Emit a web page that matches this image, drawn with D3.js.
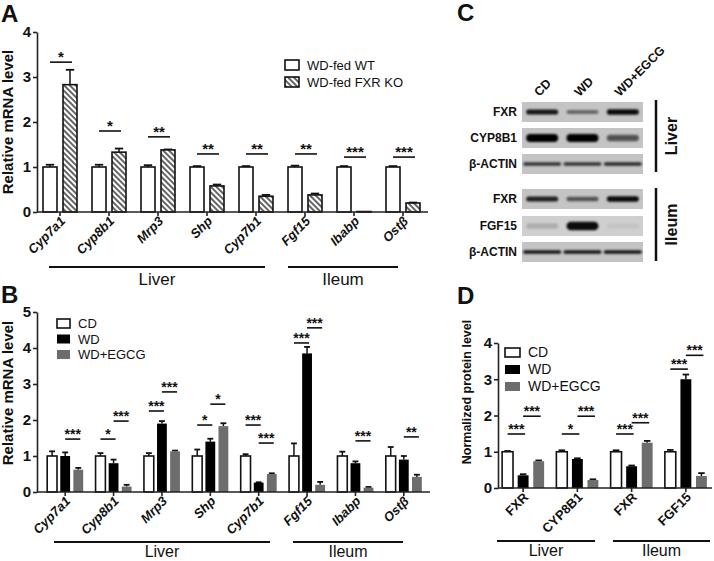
<!DOCTYPE html>
<html><head><meta charset="utf-8">
<script src="https://cdn.jsdelivr.net/npm/d3@7"></script>
<style>
body{margin:0;background:#fff}
svg{display:block}
text{font-family:"Liberation Sans",Arial,sans-serif;fill:#111}
</style>
</head><body>
<svg id="fig" width="714" height="561"></svg>
<script>
// ---------- DATA ----------
// Panel A
const catsA = ["Cyp7a1","Cyp8b1","Mrp3","Shp","Cyp7b1","Fgf15","Ibabp","Ostβ"];
const seriesA = ["WD-fed WT","WD-fed FXR KO"];
const wtA     = [1.00,1.00,1.00,1.00,1.00,1.00,1.00,1.00];
const wtErrA  = [0.05,0.05,0.04,0.02,0.02,0.03,0.02,0.02];
const koA     = [2.83,1.33,1.38,0.58,0.35,0.38,0.01,0.20];
const koErrA  = [0.33,0.08,0.01,0.03,0.03,0.03,0.00,0.01];
const sigA    = [[0,0,1,3.33,"*"],[1,0,1,1.80,"*"],[2,0,1,1.67,"**"],[3,0,1,1.29,"**"],
                 [4,0,1,1.29,"**"],[5,0,1,1.29,"**"],[6,0,1,1.22,"***"],[7,0,1,1.22,"***"]];
const ticksA  = [0,1,2,3,4];

// Panel B
const catsB = ["Cyp7a1","Cyp8b1","Mrp3","Shp","Cyp7b1","Fgf15","Ibabp","Ostβ"];
const seriesB = ["CD","WD","WD+EGCG"];
const cdB      = [1.00,1.00,1.00,1.00,1.00,1.00,1.00,1.00];
const cdErrB   = [0.13,0.08,0.08,0.18,0.05,0.35,0.12,0.25];
const wdB      = [1.00,0.80,1.90,1.40,0.26,3.85,0.80,0.90];
const wdErrB   = [0.10,0.10,0.07,0.08,0.01,0.18,0.05,0.10];
const egcgB    = [0.62,0.15,1.13,1.83,0.50,0.20,0.12,0.42];
const egcgErrB = [0.05,0.05,0.02,0.08,0.02,0.08,0.02,0.06];
const sigB = [[0,1,2,1.47,"***"],[1,0,1,1.47,"*"],[1,1,2,1.97,"***"],
              [2,0,1,2.25,"***"],[2,1,2,2.78,"***"],[3,0,1,1.86,"*"],[3,1,2,2.44,"*"],
              [4,0,1,1.86,"***"],[4,1,2,1.36,"***"],[5,0,1,4.14,"***"],[5,1,2,4.56,"***"],
              [6,1,2,1.42,"***"],[7,1,2,1.53,"**"]];
const ticksB = [0,1,2,3,4,5];

// Panel C (western blot band intensities, lanes CD / WD / WD+EGCG)
const blotLanes = ["CD","WD","WD+EGCG"];
const blotRowsLiver = ["FXR","CYP8B1","β-ACTIN"];
const blotRowsIleum = ["FXR","FGF15","β-ACTIN"];
const bandLiver = [[0.85,0.45,0.90],[1.00,0.95,0.55],[0.70,0.70,0.75]];
const bandIleum = [[0.80,0.55,0.90],[0.15,0.90,0.05],[0.85,0.85,0.85]];

// Panel D
const catsD = ["FXR","CYP8B1","FXR ","FGF15"];
const seriesD = ["CD","WD","WD+EGCG"];
const cdD      = [1.00,1.00,1.00,1.00];
const cdErrD   = [0.02,0.04,0.04,0.05];
const wdD      = [0.35,0.80,0.60,3.00];
const wdErrD   = [0.03,0.02,0.02,0.13];
const egcgD    = [0.74,0.22,1.25,0.33];
const egcgErrD = [0.02,0.02,0.05,0.08];
const sigD = [[0,0,1,1.49,"***"],[0,1,2,1.98,"***"],[1,0,1,1.49,"*"],[1,1,2,1.98,"***"],
              [2,0,1,1.49,"***"],[2,1,2,1.80,"***"],[3,0,1,3.28,"***"],[3,1,2,3.66,"***"]];
const ticksD = [0,1,2,3,4];

// ---------- DRAW ----------
const svg = d3.select("#fig");
const defs = svg.append("defs");
const pat = defs.append("pattern").attr("id","hatch").attr("patternUnits","userSpaceOnUse")
  .attr("width",4).attr("height",4).attr("patternTransform","rotate(-45)");
pat.append("rect").attr("width",4).attr("height",4).attr("fill","#fff");
pat.append("line").attr("x1",1).attr("y1",0).attr("x2",1).attr("y2",4).attr("stroke","#111").attr("stroke-width",1.3);
const blur = defs.append("filter").attr("id","blur").attr("x","-30%").attr("y","-100%").attr("width","160%").attr("height","300%");
blur.append("feGaussianBlur").attr("stdDeviation",1.3);

const GRAY = "#6d6d6d";

function barPanel(cfg){
  const g = svg.append("g");
  const x = d3.scaleBand().domain(cfg.cats).range(cfg.band);
  const xs = d3.scaleBand().domain(d3.range(cfg.series.length)).range(cfg.sub).paddingInner(cfg.subPad);
  const y = d3.scaleLinear().domain(cfg.yDomain).range(cfg.yRange);
  const y0 = y(0);
  const cx = c => x(c) + x.bandwidth()/2;
  const bw = xs.bandwidth();
  const capW = bw*0.6;

  cfg.series.forEach((s, si) => {
    const vals = cfg.values[si], errs = cfg.errors[si];
    const gs = g.append("g");
    cfg.cats.forEach((c, ci) => {
      const bx = cx(c) + xs(si);
      const v = vals[ci], e = errs[ci];
      const mid = bx + bw/2;
      if (e > 0) {
        gs.append("line").attr("x1",mid).attr("x2",mid).attr("y1",y(v)).attr("y2",y(v+e))
          .attr("stroke","#111").attr("stroke-width",1.5);
        gs.append("line").attr("x1",mid-capW/2).attr("x2",mid+capW/2).attr("y1",y(v+e)).attr("y2",y(v+e))
          .attr("stroke","#111").attr("stroke-width",1.8);
      }
      gs.append("rect").attr("x",bx).attr("width",bw).attr("y",y(v)).attr("height",Math.max(0.5,y0-y(v)))
        .attr("fill",cfg.fills[si]).attr("stroke",cfg.strokes[si]).attr("stroke-width",cfg.strokes[si]==="none"?0:1.6);
    });
  });

  const ya = g.append("g").attr("transform",`translate(${cfg.axisX[0]},0)`)
    .call(d3.axisLeft(y).tickValues(cfg.ticks).tickSize(4).tickSizeOuter(0).tickPadding(2).tickFormat(d3.format("d")));
  ya.selectAll("path,line").attr("stroke","#222").attr("stroke-width",1.6);
  ya.selectAll("text").attr("font-size",15).attr("font-weight","bold").attr("fill","#111");
  const xa = g.append("g").attr("transform",`translate(0,${y0})`)
    .call(d3.axisBottom(x).tickSize(4).tickSizeOuter(0).tickFormat(""));
  xa.select(".domain").remove();
  xa.selectAll("line").attr("stroke","#222").attr("stroke-width",1.6);
  g.append("line").attr("x1",cfg.axisX[0]).attr("x2",cfg.axisX[1]).attr("y1",y0).attr("y2",y0)
    .attr("stroke","#222").attr("stroke-width",1.6);

  cfg.cats.forEach(c => {
    g.append("text").attr("transform",`translate(${cx(c)+cfg.labDx},${y0+cfg.labDy}) rotate(-45)`)
      .attr("text-anchor","end").attr("font-size",cfg.catSize).attr("font-weight","bold")
      .attr("font-style",cfg.italic?"italic":"normal").text(c.trim());
  });

  cfg.sigs.forEach(([ci,s1,s2,lvl,stars]) => {
    const c = cfg.cats[ci];
    const x1 = cx(c)+xs(s1)+bw/2, x2 = cx(c)+xs(s2)+bw/2+2;
    g.append("line").attr("x1",x1).attr("x2",x2).attr("y1",y(lvl)).attr("y2",y(lvl))
      .attr("stroke","#111").attr("stroke-width",1.6);
    g.append("text").attr("x",(x1+x2)/2).attr("y",y(lvl)+cfg.starDy).attr("text-anchor","middle")
      .attr("font-size",cfg.starSize).attr("font-weight","bold").text(stars);
  });

  g.append("text").attr("transform",`translate(${cfg.ylab[0]},${cfg.ylab[1]}) rotate(-90)`)
    .attr("text-anchor","middle").attr("font-size",cfg.ylabSize).attr("font-weight","bold").text(cfg.ylabel);

  cfg.groups.forEach(([name,x1,x2,ly,ty]) => {
    g.append("line").attr("x1",x1).attr("x2",x2).attr("y1",ly).attr("y2",ly).attr("stroke","#111").attr("stroke-width",2);
    g.append("text").attr("x",(x1+x2)/2).attr("y",ty).attr("text-anchor","middle").attr("font-size",cfg.groupSize).text(name);
  });

  const L = cfg.legend;
  cfg.series.forEach((s, si) => {
    const yy = L.y + si*L.dy;
    g.append("rect").attr("x",L.x).attr("y",yy).attr("width",L.w).attr("height",L.h)
      .attr("fill",cfg.fills[si]).attr("stroke",cfg.strokes[si]==="none"?"none":"#111").attr("stroke-width",1.6);
    g.append("text").attr("x",L.tx).attr("y",yy+L.h).attr("font-size",L.size).text(s);
  });
}

barPanel({
  cats: catsA, series: seriesA, values: [wtA, koA], errors: [wtErrA, koErrA],
  fills: ["#fff","url(#hatch)"], strokes: ["#111","#111"],
  yDomain: [0,4], yRange: [212,32], ticks: ticksA,
  band: [35.5,427.5], sub: [-17,17], subPad: 0.3, axisX: [37,428],
  labDx: 6, labDy: 10, italic: true, catSize: 13, sigs: sigA, starDy: 0, starSize: 15,
  ylabel: "Relative mRNA level", ylab: [13,122], ylabSize: 15,
  groups: [["Liver",49,265,267,285],["Ileum",288,398,267,285]], groupSize: 17,
  legend: {x:285, y:60, dy:17, w:14, h:10, tx:307, size:13}
});

barPanel({
  cats: catsB, series: seriesB, values: [cdB, wdB, egcgB], errors: [cdErrB, wdErrB, egcgErrB],
  fills: ["#fff","#000",GRAY], strokes: ["#111","none","none"],
  yDomain: [0,5], yRange: [492,312], ticks: ticksB,
  band: [41,428], sub: [-18,18], subPad: 0.25, axisX: [37,430],
  labDx: 6, labDy: 10, italic: true, catSize: 13, sigs: sigB, starDy: 0, starSize: 14,
  ylabel: "Relative mRNA level", ylab: [13,393], ylabSize: 15,
  groups: [["Liver",54,270,542,557],["Ileum",293,403,542,557]], groupSize: 16,
  legend: {x:57, y:319, dy:15.5, w:13, h:9, tx:78, size:13}
});

barPanel({
  cats: catsD, series: seriesD, values: [cdD, wdD, egcgD], errors: [cdErrD, wdErrD, egcgErrD],
  fills: ["#fff","#000",GRAY], strokes: ["#111","none","none"],
  yDomain: [0,4], yRange: [488,343], ticks: ticksD,
  band: [496,713], sub: [-21,21], subPad: 0.3, axisX: [498,712],
  labDx: 6, labDy: 10, italic: false, catSize: 13, sigs: sigD, starDy: 0, starSize: 14,
  ylabel: "Normalized protein level", ylab: [471,392], ylabSize: 12.5,
  groups: [["Liver",497,595,541,556],["Ileum",613,710,541,556]], groupSize: 16,
  legend: {x:505, y:348, dy:17, w:15, h:9, tx:528, size:14}
});

(function(){
  const g = svg.append("g");
  const lane = d3.scaleBand().domain(blotLanes).range([522,643]);
  const lc = l => lane(l) + lane.bandwidth()/2;
  const thick = {"FXR":5.5, "CYP8B1":8, "β-ACTIN":4, "FGF15":9};
  function block(rows, bands, y0s){
    rows.forEach((r, ri) => {
      const top = y0s[ri], h = 20;
      g.append("rect").attr("x",522).attr("y",top).attr("width",121).attr("height",h)
        .attr("fill", r==="FGF15" ? "#cfcfcf" : "#c4c4c4");
      blotLanes.forEach((l, li) => {
        const a = bands[ri][li];
        const t = thick[r] * (0.55 + 0.45*a);
        const w = (r==="β-ACTIN" ? 38 : 32);
        g.append("rect").attr("x",lc(l)-w/2).attr("y",top+h/2-t/2).attr("width",w).attr("height",t)
          .attr("rx",t/2).attr("fill","#000").attr("opacity",Math.min(1,a*1.05)).attr("filter","url(#blur)");
      });
      g.append("text").attr("x",517).attr("y",top+h/2+4).attr("text-anchor","end")
        .attr("font-size",12).attr("font-weight","bold").text(r);
    });
  }
  block(blotRowsLiver, bandLiver, [102,128,154]);
  block(blotRowsIleum, bandIleum, [189,216,242]);
  blotLanes.forEach(l => {
    g.append("text").attr("transform",`translate(${lc(l)-3},97) rotate(-45)`)
      .attr("font-size",12.5).attr("font-weight","bold").text(l);
  });
  [["Liver",100,172],["Ileum",188,261]].forEach(([n,a,b]) => {
    g.append("line").attr("x1",656).attr("x2",656).attr("y1",a).attr("y2",b).attr("stroke","#111").attr("stroke-width",2.5);
    g.append("text").attr("transform",`translate(677,${(a+b)/2}) rotate(-90)`).attr("text-anchor","middle")
      .attr("font-size",16).attr("font-weight","600").text(n);
  });
})();

[["A",1,22],["B",1,303],["C",457,21],["D",457,304]].forEach(([t,x,y]) => {
  svg.append("text").attr("x",x).attr("y",y).attr("font-size",24).attr("font-weight","bold").text(t);
});
</script>
</body></html>
